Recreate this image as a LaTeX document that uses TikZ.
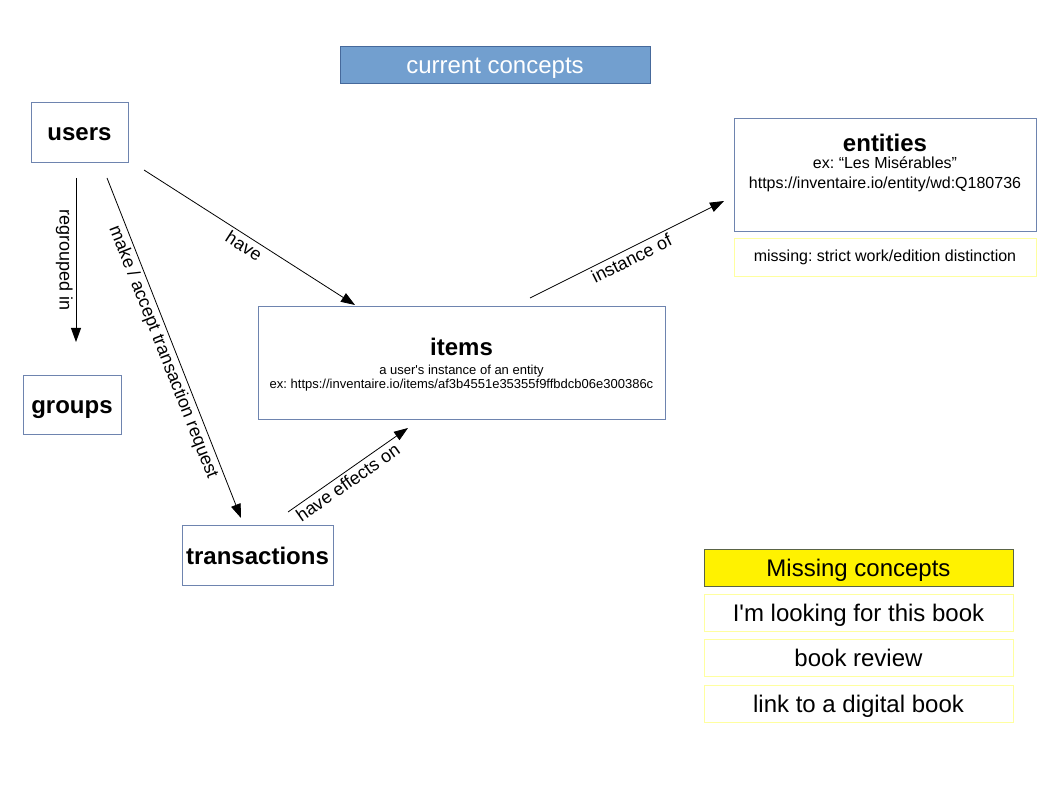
\documentclass[tikz,border=0pt]{standalone}
\usepackage{fontspec}
\setmainfont{Liberation Sans}
\usetikzlibrary{arrows.meta}
\frenchspacing
\definecolor{boxline}{RGB}{110,132,175}
\definecolor{titlefill}{RGB}{114,159,207}
\definecolor{titleline}{RGB}{70,105,155}
\definecolor{paleyellow}{RGB}{255,255,160}
\definecolor{oliveline}{RGB}{90,100,70}
\begin{document}
\begin{tikzpicture}[x=1pt,y=-1pt,
  box/.style={draw=boxline, line width=0.8pt, inner sep=0pt, fill=white},
  bigbold/.style={font=\fontsize{24}{28}\selectfont\bfseries},
  big/.style={font=\fontsize{24}{28}\selectfont},
  fix24/.style={text height=20pt, text depth=2pt},
  fix16/.style={text height=11pt, text depth=1.5pt},
  ybox/.style={draw=paleyellow, line width=0.8pt, inner sep=0pt, minimum width=309pt, minimum height=37pt, font=\fontsize{24}{28}\selectfont, fix24},
  conn/.style={line width=0.8pt, -{Triangle[length=14pt,width=10pt]}},
  elabel/.style={font=\fontsize{18}{20}\selectfont, sloped, midway, inner sep=3pt}
]
\useasboundingbox (0,0) rectangle (1058,794);

% title
\node[draw=titleline, fill=titlefill, line width=0.8pt, inner sep=0pt, minimum width=310pt, minimum height=37pt, text=white, big, fix24] (title) at (495,64.5) {current concepts};

% concept boxes
\node[box, bigbold, fix24, minimum width=97pt, minimum height=60pt] (users) at (79.5,132) {users};
\node[box, bigbold, fix24, minimum width=98pt, minimum height=59pt] (groups) at (72,404.5) {groups};
\node[box, bigbold, fix24, minimum width=151pt, minimum height=60pt] (transactions) at (257.5,555) {transactions};

\node[box, minimum width=407pt, minimum height=113pt] (items) at (461.5,362.5) {};
\node[bigbold, inner sep=0pt] (itemstitle) at (461.5,347) {items};
\node[align=center, font=\fontsize{13}{14}\selectfont, inner sep=0pt] (itemstext) at (461.5,378.5) {a user\textquotesingle s instance of an entity\\ex: https://inventaire.io/items/af3b4551e35355f9ffbdcb06e300386c};

\node[box, minimum width=302pt, minimum height=113pt] (entities) at (885,174.5) {};
\node[bigbold, inner sep=0pt] (entitiestitle) at (885,143) {entities};
\node[align=center, font=\fontsize{16}{20}\selectfont, inner sep=0pt] (entitiestext) at (885,174) {ex: “Les Misérables”\\https://inventaire.io/entity/wd:Q180736};

\node[draw=paleyellow, line width=0.8pt, inner sep=0pt, minimum width=302pt, minimum height=38pt, font=\fontsize{16}{20}\selectfont, fix16] (missing) at (885,257) {missing: strict work/edition distinction};

% missing concepts
\node[draw=oliveline, fill=yellow, line width=0.8pt, inner sep=0pt, minimum width=309pt, minimum height=37pt, big, fix24] (mc) at (858.5,567.5) {Missing concepts};
\node[ybox] (looking) at (858.5,612.5) {I\textquotesingle m looking for this book};
\node[ybox] (review) at (858.5,657.5) {book review};
\node[ybox] (link) at (858.5,703.5) {link to a digital book};

% connector ends
\coordinate (rgA) at (76,178);
\coordinate (rgB) at (76,342);
\coordinate (mkA) at (107,178);
\coordinate (mkB) at (241,518);
\coordinate (hvA) at (144,170);
\coordinate (hvB) at (355,305);
\coordinate (inA) at (530,298);
\coordinate (inB) at (724,201);
\coordinate (efA) at (288,512);
\coordinate (efB) at (408,428);

\draw[conn] (rgA) -- node[elabel, below] {regrouped in} (rgB);
\draw[conn] (mkA) -- node[elabel, below] {make / accept transaction request} (mkB);
\draw[conn] (hvA) -- node[elabel, below, pos=0.5] {have} (hvB);
\draw[conn] (inA) -- node[elabel, below] {instance of} (inB);
\draw[conn] (efA) -- node[elabel, below, pos=0.45] {have effects on} (efB);
\end{tikzpicture}
\end{document}
